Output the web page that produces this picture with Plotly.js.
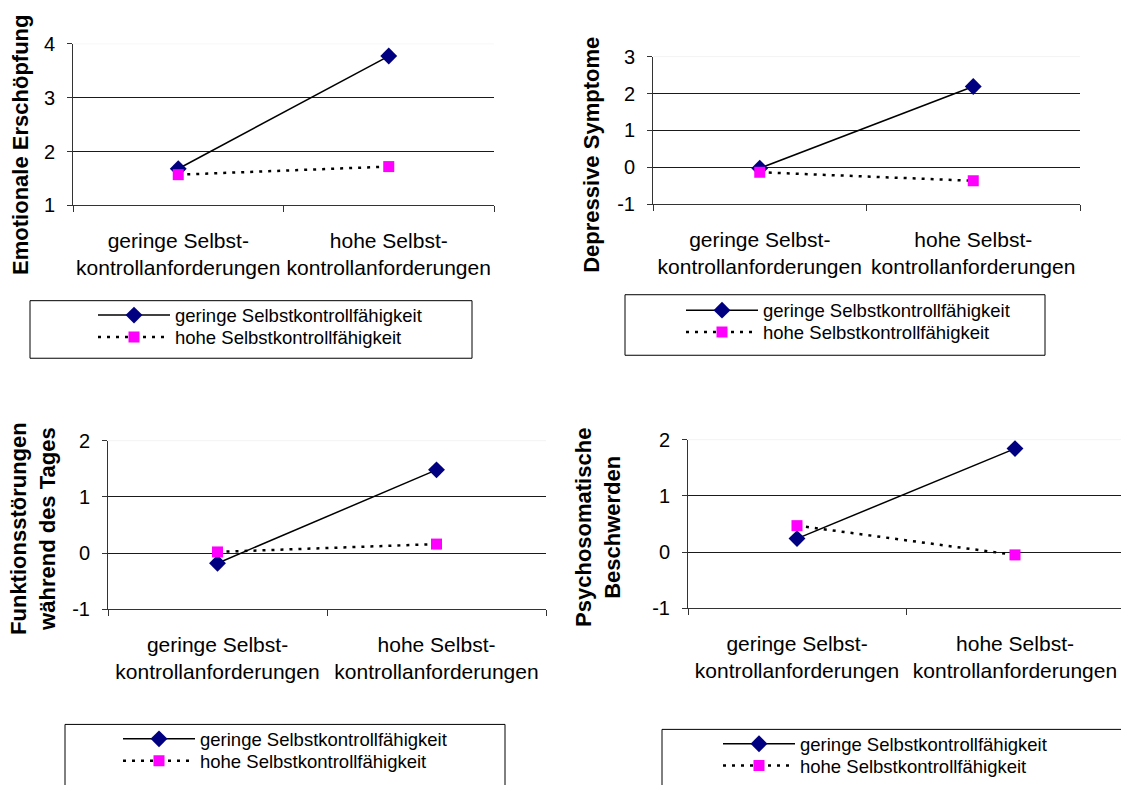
<!DOCTYPE html>
<html>
<head>
<meta charset="utf-8">
<script src="https://cdn.plot.ly/plotly-3.0.1.min.js"></script>
<style>
  html, body { margin: 0; padding: 0; background: #fff; }
  #chart { width: 1121px; height: 785px; }
</style>
</head>
<body>
<div id="chart"></div>
<script>
// Categories on the x axis (demands for self-control)
const categories = ["geringe Selbst-<br>kontrollanforderungen", "hohe Selbst-<br>kontrollanforderungen"];

// Series names (ability for self-control)
const seriesLow = "geringe Selbstkontrollfähigkeit";
const seriesHigh = "hohe Selbstkontrollfähigkeit";

// Outcome titles
const outcomeTitles = [
  "Emotionale Erschöpfung",
  "Depressive Symptome",
  "Funktionsstörungen<br>während des Tages",
  "Psychosomatische<br>Beschwerden"
];

// Values per outcome: low / high self-control ability
const erschoepfungGering = [1.68, 3.77];
const erschoepfungHoch = [1.57, 1.72];
const depressivGering = [-0.02, 2.19];
const depressivHoch = [-0.13, -0.36];
const funktionGering = [-0.18, 1.48];
const funktionHoch = [0.02, 0.16];
const psychoGering = [0.24, 1.84];
const psychoHoch = [0.47, -0.05];

// Y axis tick values per panel
const yTicks = [
  [1, 2, 3, 4],
  [-1, 0, 1, 2, 3],
  [-1, 0, 1, 2],
  [-1, 0, 1, 2]
];

const W = 1121, H = 785;
const px = v => v / W;
const py = v => 1 - v / H;

// Panel frames in pixels: [left, right, top, bottom]
const frames = [
  [73, 494, 44, 207],
  [653, 1080, 57, 206],
  [108, 546, 444, 614],
  [688, 1121, 443, 613]
];
// Legend boxes in pixels: [left, right, top, bottom]
const legendBoxes = [
  [30, 472, 303, 361],
  [625, 1045, 297, 358],
  [65, 505, 730, 800],
  [662, 1130, 735, 800]
];
// Legend rows: left edge and the centre of each row, in pixels
const legendRows = [
  [93, 318, 340],
  [681, 313, 335],
  [118, 745, 767],
  [718, 750, 772]
];
// Axis title centres in pixels
const titleCentres = [
  [21, 146],
  [592, 156],
  [33, 533],
  [598, 531]
];

const fontFamily = "Liberation Sans, Arial, sans-serif";
const pairs = [
  [erschoepfungGering, erschoepfungHoch],
  [depressivGering, depressivHoch],
  [funktionGering, funktionHoch],
  [psychoGering, psychoHoch]
];

const traces = [];
const layout = {
  width: W, height: H,
  margin: {l: 0, r: 0, t: 0, b: 0},
  paper_bgcolor: "#fff",
  plot_bgcolor: "rgba(0,0,0,0)",
  showlegend: true,
  font: {family: fontFamily, color: "#000", size: 20},
  shapes: [],
  annotations: []
};

function legendFor(id, x, yc) {
  layout[id] = {
    x: px(x), y: py(yc),
    xanchor: "left", yanchor: "middle",
    bgcolor: "rgba(0,0,0,0)", borderwidth: 0,
    itemwidth: 72, tracegroupgap: 0,
    font: {family: fontFamily, size: 18.5, color: "#000"}
  };
}

pairs.forEach((pair, i) => {
  const n = i === 0 ? "" : String(i + 1);
  const xa = "x" + n, ya = "y" + n;
  const legA = i === 0 ? "legend" : "legend" + (2 * i + 1);
  const legB = "legend" + (2 * i + 2);
  const [l, r, t, b] = frames[i];

  traces.push({
    x: categories, y: pair[0], xaxis: xa, yaxis: ya,
    name: seriesLow, legend: legA,
    type: "scatter", mode: "lines+markers",
    line: {color: "#000", width: 1.5},
    marker: {symbol: "diamond", size: 13, color: "#000080"},
    cliponaxis: false
  });
  traces.push({
    x: categories, y: pair[1], xaxis: xa, yaxis: ya,
    name: seriesHigh, legend: legB,
    type: "scatter", mode: "lines+markers",
    line: {color: "#000", width: 2.5, dash: "3px,6px"},
    marker: {symbol: "square", size: 11, color: "#ff00ff"},
    cliponaxis: false
  });

  // Each category occupies the same width; the last panel runs off the right edge
  const catWidth = i === 3 ? 218 : (r - l) / 2;
  const xEnd = -0.5 + (r - l) / catWidth;
  const ticks = yTicks[i];
  const y0 = ticks[0], y1 = ticks[ticks.length - 1];

  layout["xaxis" + n] = {
    domain: [px(l), px(r)], anchor: ya,
    type: "category", range: [-0.5, xEnd],
    tickson: "boundaries", ticks: "outside", ticklen: 6, tickcolor: "#333",
    tickangle: 0, ticklabelstandoff: 16,
    showline: true, linecolor: "#333", linewidth: 1,
    showgrid: false, zeroline: false, fixedrange: true,
    tickfont: {family: fontFamily, size: 21, color: "#000"}
  };
  layout["yaxis" + n] = {
    domain: [py(b), py(t)], anchor: xa,
    range: [y0, y1],
    tickmode: "array", tickvals: ticks, ticktext: ticks.map(v => String(v)),
    ticks: "outside", ticklen: 5, tickcolor: "#333",
    ticklabelstandoff: 8,
    showline: true, linecolor: "#333", linewidth: 1,
    showgrid: false, zeroline: false, fixedrange: true,
    minor: {tickmode: "array", tickvals: ticks.slice(1, -1), showgrid: true, gridcolor: "#1a1a1a", gridwidth: 1, ticks: ""},
    tickfont: {family: fontFamily, size: 20, color: "#000"}
  };

  // faint top border of the plot area
  layout.shapes.push({
    type: "line", xref: xa + " domain", yref: ya,
    x0: 0, x1: 1, y0: y1, y1: y1,
    line: {color: "#e8e8e8", width: 1}, layer: "below"
  });

  // legend frame
  const [bl, br, bt, bb] = legendBoxes[i];
  layout.shapes.push({
    type: "rect", xref: "paper", yref: "paper",
    x0: px(bl), x1: px(br), y0: py(bb), y1: py(bt),
    line: {color: "#000", width: 1}, fillcolor: "rgba(0,0,0,0)"
  });

  const [lx, r1, r2] = legendRows[i];
  legendFor(legA, lx, r1);
  legendFor(legB, lx, r2);

  layout.annotations.push({
    text: "<b>" + outcomeTitles[i] + "</b>",
    xref: "paper", yref: "paper",
    x: px(titleCentres[i][0]), y: py(titleCentres[i][1]),
    xanchor: "center", yanchor: "middle",
    textangle: -90, showarrow: false,
    font: {family: fontFamily, size: 22, color: "#000"}
  });
});

Plotly.newPlot("chart", traces, layout, {displayModeBar: false, staticPlot: true});
</script>
</body>
</html>
